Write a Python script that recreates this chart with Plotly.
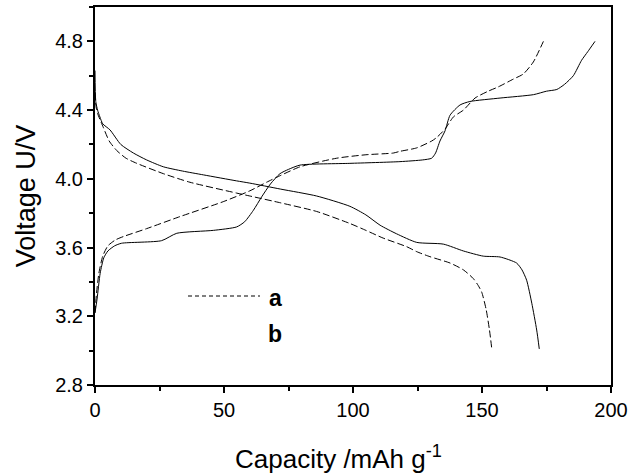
import plotly.graph_objects as go

# Curve a (dashed): charge and discharge
a_charge_x = [0, 0.5, 1.5, 3, 5, 8, 11, 20, 32.9, 49.7, 60, 66.5, 72, 79.5, 93.7, 105, 115.6,
              118.2, 124.7, 130.5, 132.4, 135.7, 138.9, 142.8, 147.3, 152.4, 156.3, 162.1, 166, 169.9, 173.8]
a_charge_y = [3.22, 3.32, 3.45, 3.55, 3.61, 3.645, 3.664, 3.71, 3.78, 3.867, 3.93, 3.98, 4.02, 4.07, 4.12, 4.14, 4.15,
              4.16, 4.18, 4.22, 4.24, 4.29, 4.36, 4.40, 4.47, 4.51, 4.535, 4.58, 4.61, 4.68, 4.80]
a_dis_x = [0, 0.4, 1, 3.2, 5.5, 8.4, 12, 16.2, 26.5, 36.8, 54.9, 60, 72, 85.9, 98.8, 105, 111.7, 120.8,
           124.7, 129.8, 137.6, 142.8, 146.6, 148.5, 149.9, 151.6, 152.9, 153.8]
a_dis_y = [4.50, 4.42, 4.38, 4.30, 4.22, 4.165, 4.12, 4.09, 4.03, 3.98, 3.917, 3.90, 3.86, 3.81, 3.74, 3.70, 3.655, 3.605,
           3.576, 3.547, 3.51, 3.47, 3.42, 3.38, 3.34, 3.24, 3.12, 3.01]

# Curve b (solid): charge and discharge
b_charge_x = [0, 0.8, 2, 3.4, 5, 7.6, 10.3, 25.8, 31.7, 45.9, 54.9, 58, 61.4, 64.6, 68, 71.7, 75, 79.5,
              98.8, 118.2, 127, 130.5, 132, 133.7, 135.7, 137.6, 141.5, 145.3, 157, 170, 175, 179, 182,
              185.4, 188.6, 191, 193.8]
b_charge_y = [3.22, 3.30, 3.45, 3.54, 3.58, 3.61, 3.625, 3.64, 3.683, 3.70, 3.72, 3.75, 3.817, 3.895, 3.97, 4.03, 4.055, 4.08,
              4.09, 4.10, 4.11, 4.12, 4.15, 4.22, 4.28, 4.37, 4.43, 4.45, 4.47, 4.49, 4.51, 4.52, 4.55,
              4.60, 4.69, 4.74, 4.80]
b_dis_x = [0, 0.3, 1, 1.9, 3, 5.8, 10, 14.9, 20, 26.5, 34, 42, 54.9, 60, 72, 85.9, 98.8, 105, 110.5, 116.9,
           124.7, 135, 142.8, 150.5, 157, 163.4, 165.5, 167.3, 169.3, 171.2, 172.2]
b_dis_y = [4.63, 4.45, 4.40, 4.36, 4.32, 4.285, 4.20, 4.15, 4.11, 4.07, 4.045, 4.023, 3.988, 3.975, 3.94, 3.90, 3.84, 3.79, 3.73, 3.68,
           3.63, 3.62, 3.58, 3.55, 3.545, 3.51, 3.47, 3.41, 3.276, 3.12, 3.01]

x_ticks = [0, 50, 100, 150, 200]
y_ticks = [2.8, 3.2, 3.6, 4.0, 4.4, 4.8]
y_tick_text = ["2.8", "3.2", "3.6", "4.0", "4.4", "4.8"]
x_title = "Capacity /mAh g<sup>-1</sup>"
y_title = "Voltage U/V"

FONT = "Liberation Sans, Arial, sans-serif"
dash_a = "7px,3px"

fig = go.Figure()
for xs, ys in [(a_charge_x, a_charge_y), (a_dis_x, a_dis_y)]:
    fig.add_trace(go.Scatter(x=xs, y=ys, mode="lines", line=dict(color="black", width=1, dash=dash_a, shape="spline", smoothing=0.6),
                             showlegend=False, hoverinfo="skip"))
for xs, ys in [(b_charge_x, b_charge_y), (b_dis_x, b_dis_y)]:
    fig.add_trace(go.Scatter(x=xs, y=ys, mode="lines", line=dict(color="black", width=1, shape="spline", smoothing=0.6),
                             showlegend=False, hoverinfo="skip"))

axis_common = dict(showgrid=False, zeroline=False, showline=True, linecolor="black", linewidth=2,
                   mirror=True, ticks="outside", ticklen=6, tickwidth=1.5, tickcolor="black",
                   tickfont=dict(family=FONT, size=20, color="black"))
fig.update_xaxes(range=[0, 200], tickvals=x_ticks,
                 minor=dict(ticks="outside", ticklen=4, tickwidth=1.5, tickcolor="black", dtick=25, tick0=0),
                 **axis_common)
fig.update_yaxes(range=[2.8, 5.0], tickvals=y_ticks, ticktext=y_tick_text,
                 minor=dict(ticks="outside", ticklen=4, tickwidth=1.5, tickcolor="black", dtick=0.2, tick0=2.8),
                 title=dict(text=y_title, font=dict(family=FONT, size=27, color="black"), standoff=12),
                 **axis_common)

# X-axis title placed slightly left of centre as in the reference
fig.add_annotation(xref="paper", yref="paper", x=(338 - 95) / 516, y=(385 - 458) / 378, text=x_title, showarrow=False,
                   font=dict(family=FONT, size=26, color="black"), xanchor="center", yanchor="middle")

# Legend (drawn in paper coordinates)
fig.add_shape(type="line", xref="paper", yref="paper", x0=(188 - 95) / 516, x1=(260 - 95) / 516,
              y0=(385 - 296) / 378, y1=(385 - 296) / 378, line=dict(color="black", width=1, dash="4px,3px"))
fig.add_annotation(xref="paper", yref="paper", x=(275 - 95) / 516, y=(385 - 298) / 378, text="<b>a</b>", showarrow=False,
                   font=dict(family=FONT, size=23, color="black"), xanchor="center", yanchor="middle")
fig.add_annotation(xref="paper", yref="paper", x=(275 - 95) / 516, y=(385 - 334) / 378, text="<b>b</b>", showarrow=False,
                   font=dict(family=FONT, size=23, color="black"), xanchor="center", yanchor="middle")

fig.update_layout(width=630, height=474, margin=dict(l=95, r=19, t=7, b=89, autoexpand=False),
                  paper_bgcolor="white", plot_bgcolor="white", showlegend=False)
fig.write_html("out.html")
